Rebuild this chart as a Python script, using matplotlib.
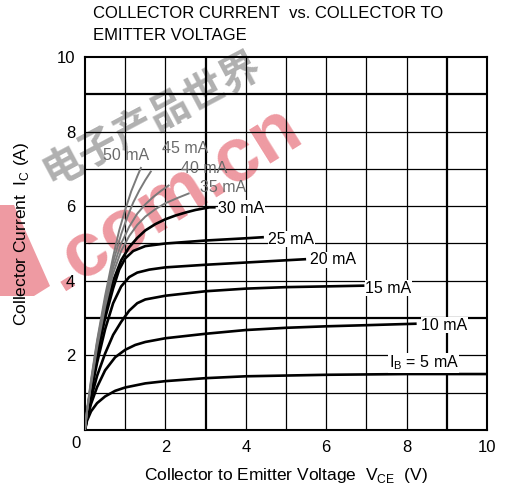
import numpy as np
import matplotlib
matplotlib.use('Agg')
import matplotlib.pyplot as plt
from matplotlib.patches import Polygon

plt.rcParams['font.family'] = ['Liberation Sans', 'DejaVu Sans']

# base current -> (Vce points, Ic points)
IB_LABELS = ['IB = 5 mA', '10 mA', '15 mA', '20 mA', '25 mA', '30 mA', '35 mA', '40 mA', '45 mA', '50 mA']

vce_5  = [0, 0.05, 0.15, 0.3, 0.5, 0.75, 1.0, 1.5, 2.0, 3.0, 4.0, 5.0, 6.0, 8.0, 10.0]
ic_5   = [0, 0.25, 0.5, 0.72, 0.9, 1.05, 1.14, 1.25, 1.31, 1.39, 1.44, 1.46, 1.48, 1.5, 1.5]

vce_10 = [0, 0.05, 0.15, 0.3, 0.5, 0.75, 1.0, 1.25, 1.5, 2, 3, 4, 5, 6, 7, 8.25]
ic_10  = [0, 0.3, 0.7, 1.15, 1.6, 1.95, 2.15, 2.28, 2.36, 2.46, 2.58, 2.68, 2.74, 2.78, 2.81, 2.85]

vce_15 = [0, 0.05, 0.15, 0.3, 0.5, 0.7, 0.9, 1.1, 1.3, 1.5, 2, 3, 4, 5, 6, 6.95]
ic_15  = [0, 0.35, 0.85, 1.45, 2.05, 2.55, 2.9, 3.2, 3.4, 3.5, 3.6, 3.72, 3.79, 3.83, 3.85, 3.87]

vce_20 = [0, 0.05, 0.15, 0.3, 0.5, 0.7, 0.9, 1.1, 1.3, 1.6, 2, 3, 4, 5, 5.5]
ic_20  = [0, 0.4, 1.0, 1.8, 2.7, 3.4, 3.85, 4.1, 4.22, 4.3, 4.36, 4.43, 4.49, 4.55, 4.58]

vce_25 = [0, 0.05, 0.15, 0.3, 0.5, 0.7, 0.85, 1.0, 1.2, 1.5, 2, 2.5, 3, 3.5, 4, 4.45]
ic_25  = [0, 0.45, 1.1, 2.0, 3.0, 3.8, 4.3, 4.6, 4.8, 4.93, 5.0, 5.04, 5.08, 5.11, 5.14, 5.17]

vce_30 = [0, 0.05, 0.15, 0.3, 0.5, 0.7, 0.9, 1.1, 1.3, 1.5, 1.75, 2.0, 2.25, 2.5, 2.75, 3.1, 3.25]
ic_30  = [0, 0.45, 1.15, 2.1, 3.15, 4.0, 4.55, 4.9, 5.15, 5.35, 5.52, 5.65, 5.75, 5.83, 5.9, 5.97, 5.97]

vce_35 = [0, 0.05, 0.15, 0.3, 0.5, 0.7, 0.9, 1.1, 1.3, 1.5, 1.75, 2.0, 2.3, 2.6]
ic_35  = [0, 0.5, 1.2, 2.2, 3.3, 4.2, 4.8, 5.2, 5.5, 5.72, 5.92, 6.08, 6.22, 6.35]

vce_40 = [0, 0.05, 0.15, 0.3, 0.5, 0.7, 0.9, 1.1, 1.3, 1.5, 1.7, 1.9, 2.1]
ic_40  = [0, 0.5, 1.25, 2.3, 3.4, 4.35, 5.0, 5.45, 5.8, 6.05, 6.25, 6.42, 6.57]

vce_45 = [0, 0.05, 0.15, 0.3, 0.5, 0.7, 0.9, 1.05, 1.2, 1.35, 1.5, 1.65]
ic_45  = [0, 0.5, 1.3, 2.35, 3.5, 4.5, 5.25, 5.7, 6.1, 6.42, 6.7, 6.95]

vce_50 = [0, 0.05, 0.15, 0.3, 0.5, 0.7, 0.85, 1.0, 1.15, 1.3, 1.4]
ic_50  = [0, 0.55, 1.35, 2.4, 3.6, 4.65, 5.35, 5.9, 6.4, 6.8, 7.05]

curves = [(vce_5, ic_5), (vce_10, ic_10), (vce_15, ic_15), (vce_20, ic_20), (vce_25, ic_25),
          (vce_30, ic_30), (vce_35, ic_35), (vce_40, ic_40), (vce_45, ic_45), (vce_50, ic_50)]

# label anchor (left edge, vertical centre) in data units
label_x = [7.55, 8.37, 6.97, 5.6, 4.56, 3.32, 2.86, 2.4, 1.91, 0.46]
label_y = [1.8, 2.81, 3.8, 4.56, 5.11, 5.94, 6.5, 7.0, 7.55, 7.35]

W, H = 505, 486
fig = plt.figure(figsize=(W / 100, H / 100), dpi=100)
ax = fig.add_axes([85 / W, 1 - 430 / H, 402 / W, 373 / H])
ax.set_xlim(0, 10)
ax.set_ylim(0, 10)
ax.patch.set_alpha(0)

# watermark stamped on the scan (eepw.com.cn), the "w" only shows as a sliver at the edge
pink = '#ee9aa2'
fig.text(306 / W, 1 - 138 / H, '.com.cn', color=pink, fontsize=55, fontweight='bold',
         rotation=32, rotation_mode='anchor', ha='right', va='baseline', zorder=-2)
sliver = [(0, 205), (14, 205), (50, 286), (34, 296), (0, 296)]
fig.patches.append(Polygon([(px / W, 1 - py / H) for px, py in sliver], closed=True,
                           transform=fig.transFigure, facecolor=pink, edgecolor='none', zorder=-2))
fig.text(152 / W, 1 - 118 / H, '电子产品世界', color='#9c9c9c', alpha=0.8, fontsize=29, fontweight='bold',
         rotation=28, rotation_mode='anchor', ha='center', va='center', zorder=-2,
         family=['Noto Sans CJK SC', 'DejaVu Sans'])

# grid, a few lines come out heavier in the print
thick_v = [3, 9]
thick_h = [3, 9]
for v in range(1, 10):
    ax.axvline(v, color='black', lw=1.6 if v in thick_v else 0.9, zorder=1)
for h in range(1, 10):
    ax.axhline(h, color='black', lw=1.6 if h in thick_h else 0.9, zorder=1)

for i, (xs, ys) in enumerate(curves):
    gray = i >= 6
    ax.plot(xs, ys, color='#7a7a7a' if gray else 'black', lw=1.4 if gray else 1.9,
            solid_capstyle='butt', zorder=3)
    txt = IB_LABELS[i]
    if i == 0:
        txt = 'I$_\\mathregular{B}$ = 5 mA'
    ax.text(label_x[i], label_y[i], txt, fontsize=11.5, ha='left', va='center',
            color='#6a6a6a' if gray else 'black', zorder=4,
            bbox=dict(facecolor='white', edgecolor='none', pad=0.3) if not gray else None)

for s in ax.spines.values():
    s.set_linewidth(1.5)

ax.set_xticks([2, 4, 6, 8, 10])
ax.set_yticks([2, 4, 6, 8, 10])
ax.set_xticklabels(['2', '4', '6', '8', '10'])
ax.set_yticklabels(['2', '4', '6', '8', '10'])
ax.tick_params(length=0, labelsize=12, pad=7)
ax.text(-0.22, -0.35, '0', fontsize=12, ha='center', va='center')

ax.set_xlabel('Collector to Emitter Voltage  V$_\\mathregular{CE}$  (V)', fontsize=12.5, labelpad=8)
ax.set_ylabel('Collector Current  I$_\\mathregular{C}$ (A)', fontsize=12.5)
ax.yaxis.set_label_coords(-0.134, 0.525)

fig.text(93 / W, 1 - 14 / H, 'COLLECTOR CURRENT  vs. COLLECTOR TO', fontsize=12, ha='left', va='center')
fig.text(93 / W, 1 - 36 / H, 'EMITTER VOLTAGE', fontsize=12, ha='left', va='center')

fig.savefig('out.png', dpi=100)
